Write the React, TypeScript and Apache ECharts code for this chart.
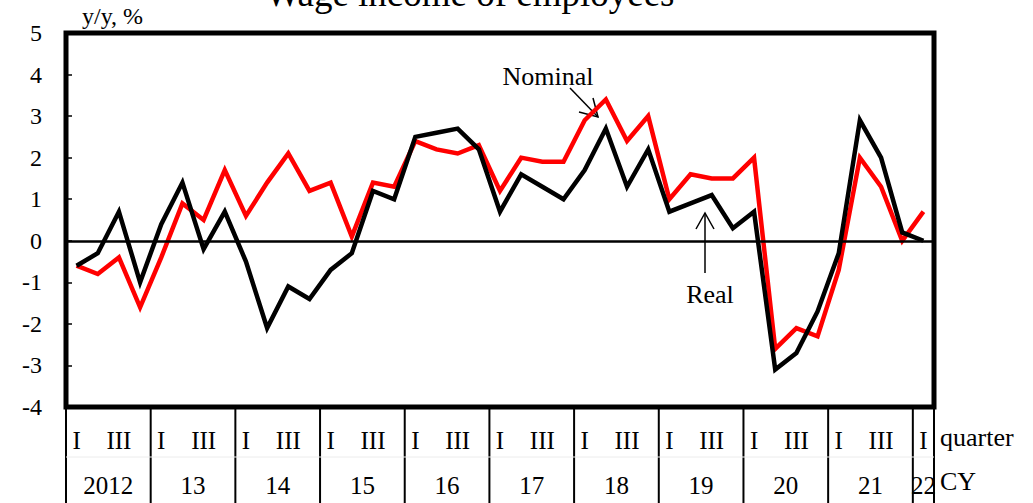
import React, { useEffect, useRef } from "react";
import * as echarts from "echarts";

const years = ["2012", "13", "14", "15", "16", "17", "18", "19", "20", "21", "22"];
const quarterNames = ["I", "II", "III", "IV"];
const quarterCount = 41;

const nominal = [
  -0.6, -0.8, -0.4, -1.6, -0.4, 0.9, 0.5, 1.7, 0.6, 1.4, 2.1, 1.2, 1.4, 0.1, 1.4, 1.3,
  2.4, 2.2, 2.1, 2.3, 1.2, 2.0, 1.9, 1.9, 2.9, 3.4, 2.4, 3.0, 1.0, 1.6, 1.5, 1.5, 2.0,
  -2.6, -2.1, -2.3, -0.7, 2.0, 1.3, 0.0, 0.7,
];
const real = [
  -0.6, -0.3, 0.7, -1.0, 0.4, 1.4, -0.2, 0.7, -0.5, -2.1, -1.1, -1.4, -0.7, -0.3, 1.2, 1.0,
  2.5, 2.6, 2.7, 2.2, 0.7, 1.6, 1.3, 1.0, 1.7, 2.7, 1.3, 2.2, 0.7, 0.9, 1.1, 0.3, 0.7,
  -3.1, -2.7, -1.7, -0.3, 2.9, 2.0, 0.2, 0.0,
];

const categories: string[] = [];
for (let i = 0; i < quarterCount; i++) {
  categories.push(years[Math.floor(i / 4)] + " " + quarterNames[i % 4]);
}

const FONT = "'Liberation Serif', 'Times New Roman', serif";

export default function App() {
  const ref = useRef<HTMLDivElement>(null);
  useEffect(() => {
    if (!ref.current) return;
    const chart = echarts.init(ref.current, null, { renderer: "svg" });
    chart.setOption({
      animation: false,
      grid: {
        left: 66,
        right: 99,
        top: 33,
        bottom: 96,
        show: true,
        borderColor: "#000",
        borderWidth: 5,
        backgroundColor: "transparent",
      },
      xAxis: {
        type: "category",
        data: categories,
        boundaryGap: true,
        axisLine: { show: false },
        axisTick: { show: false },
        axisLabel: {
          interval: 0,
          formatter: (_v: string, idx: number) =>
            idx % 4 === 0 ? "I" : idx % 4 === 2 ? "III" : "",
          fontSize: 25,
          fontFamily: FONT,
          color: "#000",
          verticalAlign: "middle",
          margin: 33,
        },
        splitLine: { show: false },
      },
      yAxis: {
        type: "value",
        min: -4,
        max: 5,
        interval: 1,
        axisLine: { show: false },
        axisTick: { show: true, inside: true, length: 6, lineStyle: { color: "#000", width: 1.5 } },
        splitLine: { show: false },
        axisLabel: { fontSize: 24, color: "#000", fontFamily: FONT, margin: 24 },
      },
      series: [
        {
          type: "line",
          name: "Nominal",
          data: nominal,
          symbol: "none",
          lineStyle: { color: "#ff0000", width: 4.5, join: "miter" },
          z: 2,
          markLine: {
            silent: true,
            symbol: "none",
            label: { show: false },
            lineStyle: { color: "#000", width: 2.5, type: "solid" },
            data: [{ yAxis: 0 }],
          },
        },
        {
          type: "line",
          name: "Real",
          data: real,
          symbol: "none",
          lineStyle: { color: "#000", width: 4.5, join: "miter" },
          z: 3,
        },
      ],
    });

    const px = (i: number) => chart.convertToPixel({ xAxisIndex: 0 }, i) as number;
    const band = px(1) - px(0);
    const yBottom = chart.convertToPixel({ yAxisIndex: 0 }, -4) as number;
    const H = 503;
    const graphics: any[] = [];
    const txt = (x: number, y: number, text: string, size: number, align = "center", va = "middle") => ({
      type: "text",
      x,
      y,
      silent: true,
      style: { text, fontSize: size, fontFamily: FONT, fill: "#000", align, verticalAlign: va },
    });
    // year separators
    for (let k = 0; k <= 10; k++) {
      const x = px(4 * k) - band / 2;
      graphics.push({ type: "line", silent: true, shape: { x1: x, y1: yBottom, x2: x, y2: H }, style: { stroke: "#000", lineWidth: 2 } });
    }
    const xEnd = px(quarterCount - 1) + band / 2;
    graphics.push({ type: "line", silent: true, shape: { x1: xEnd, y1: yBottom, x2: xEnd, y2: H }, style: { stroke: "#000", lineWidth: 2 } });
    const x0 = px(0) - band / 2;
    graphics.push({ type: "line", silent: true, shape: { x1: x0, y1: 457, x2: xEnd, y2: 457 }, style: { stroke: "#ececec", lineWidth: 1 } });
    // year labels
    years.forEach((y, k) => {
      const first = 4 * k;
      const last = Math.min(4 * k + 3, quarterCount - 1);
      const cx = (px(first) + px(last)) / 2;
      graphics.push(txt(cx, 485, y, 25));
    });
    graphics.push(txt(xEnd + 6, 437, "quarter", 26, "left"));
    graphics.push(txt(xEnd + 6, 481, "CY", 26, "left"));
    graphics.push(txt(82, 16, "y/y, %", 24, "left"));
    graphics.push(txt(470, -7, "Wage income of employees", 37));
    // annotations
    graphics.push(txt(548, 76, "Nominal", 26));
    graphics.push({ type: "line", silent: true, shape: { x1: 570, y1: 88, x2: 598, y2: 117 }, style: { stroke: "#000", lineWidth: 1.5 } });
    graphics.push({ type: "polyline", silent: true, shape: { points: [[593, 98], [598, 117], [579, 112]] }, style: { stroke: "#000", lineWidth: 1.5, fill: "none" } });
    graphics.push(txt(710, 294, "Real", 26));
    graphics.push({ type: "line", silent: true, shape: { x1: 705, y1: 213, x2: 705, y2: 273 }, style: { stroke: "#000", lineWidth: 1.5 } });
    graphics.push({ type: "polyline", silent: true, shape: { points: [[696, 229], [705, 213], [714, 229]] }, style: { stroke: "#000", lineWidth: 1.5, fill: "none" } });
    chart.setOption({ graphic: graphics });

    return () => chart.dispose();
  }, []);
  return (
    <div
      ref={ref}
      style={{ position: "fixed", left: 0, top: 0, width: 1033, height: 503, background: "#fff" }}
    />
  );
}
